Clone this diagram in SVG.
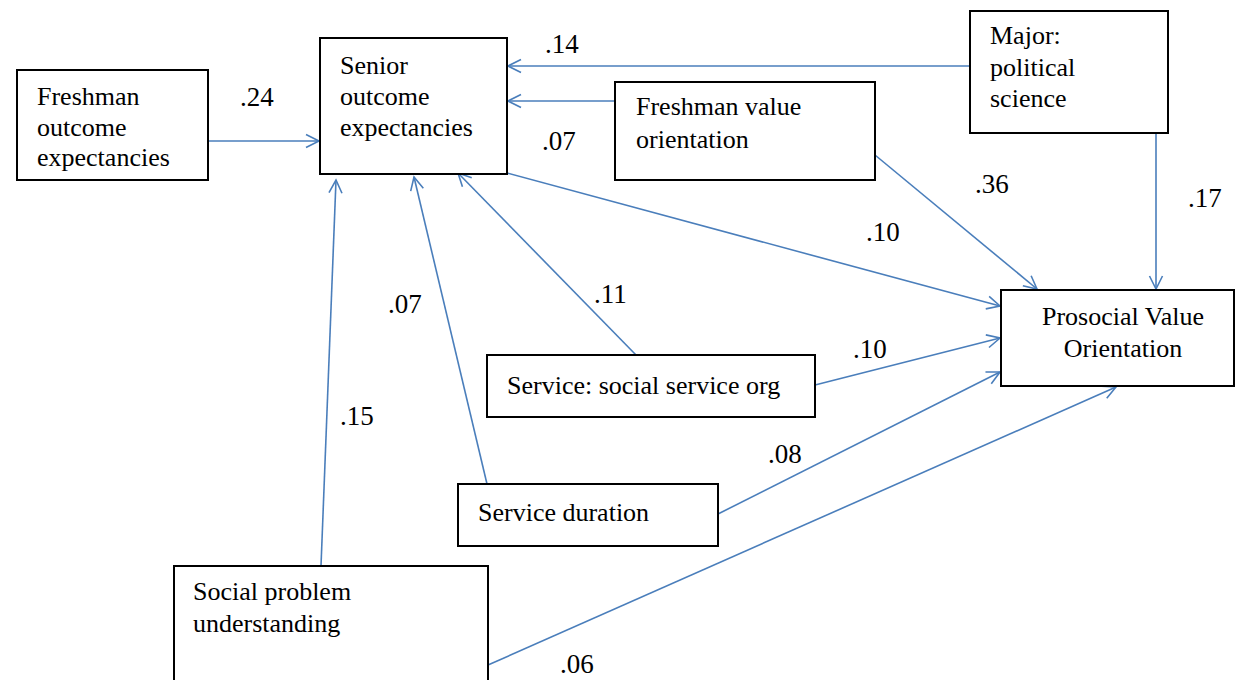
<svg xmlns="http://www.w3.org/2000/svg" width="1236" height="680" viewBox="0 0 1236 680">
<style>
.box{fill:#fff;stroke:#000;stroke-width:2}
.t{font-family:'Liberation Serif','Times New Roman','DejaVu Serif',serif;font-size:26px;fill:#000}
.n{font-family:'Liberation Serif','Times New Roman','DejaVu Serif',serif;font-size:27px;fill:#000}
.c line{stroke:#4A7EBB;stroke-width:1.6;fill:none;marker-end:url(#a)}
</style>
<defs>
<marker id="a" viewBox="-14 -8 16 16" markerWidth="16" markerHeight="16" refX="0" refY="0" orient="auto" markerUnits="userSpaceOnUse">
<path d="M-13,-6.5 L0,0 L-13,6.5" fill="none" stroke="#4A7EBB" stroke-width="1.6"/>
</marker>
</defs>
<rect width="1236" height="680" fill="#fff"/>
<g id="connectors" class="c">
<line x1="208" y1="141" x2="319" y2="141"/>
<line x1="970" y1="66" x2="508" y2="66"/>
<line x1="615" y1="101" x2="508" y2="101"/>
<line x1="507" y1="173" x2="1000" y2="306"/>
<line x1="875" y1="155" x2="1037" y2="289"/>
<line x1="1156" y1="133" x2="1156" y2="289"/>
<line x1="636" y1="355" x2="458" y2="173"/>
<line x1="815" y1="385" x2="1000" y2="338"/>
<line x1="487" y1="484" x2="414" y2="177"/>
<line x1="718" y1="514" x2="1000" y2="372"/>
<line x1="321" y1="566" x2="336" y2="180"/>
<line x1="488" y1="665" x2="1116" y2="387"/>
</g>
<g id="labels">
<text class="n" x="240" y="106">.24</text>
<text class="n" x="545" y="53">.14</text>
<text class="n" x="542" y="150">.07</text>
<text class="n" x="866" y="241">.10</text>
<text class="n" x="975" y="193">.36</text>
<text class="n" x="1188" y="207">.17</text>
<text class="n" x="594" y="303">.11</text>
<text class="n" x="853" y="358">.10</text>
<text class="n" x="388" y="313">.07</text>
<text class="n" x="768" y="463">.08</text>
<text class="n" x="340" y="425">.15</text>
<text class="n" x="560" y="673">.06</text>
</g>
<g id="freshman-outcome">
<rect class="box" x="17" y="70" width="191" height="110"/>
<text class="t" x="37" y="105">Freshman</text>
<text class="t" x="37" y="136">outcome</text>
<text class="t" x="37" y="166">expectancies</text>
</g>
<g id="senior-outcome">
<rect class="box" x="320" y="38" width="187" height="136"/>
<text class="t" x="340" y="74">Senior</text>
<text class="t" x="340" y="105">outcome</text>
<text class="t" x="340" y="136">expectancies</text>
</g>
<g id="major">
<rect class="box" x="970" y="11" width="198" height="122"/>
<text class="t" x="990" y="44">Major:</text>
<text class="t" x="990" y="76">political</text>
<text class="t" x="990" y="107">science</text>
</g>
<g id="freshman-value">
<rect class="box" x="615" y="82" width="260" height="98"/>
<text class="t" x="636" y="115">Freshman value</text>
<text class="t" x="636" y="148">orientation</text>
</g>
<g id="prosocial">
<rect class="box" x="1001" y="290" width="233" height="96"/>
<text class="t" x="1123" y="325" text-anchor="middle">Prosocial Value</text>
<text class="t" x="1123" y="357" text-anchor="middle">Orientation</text>
</g>
<g id="service-org">
<rect class="box" x="487" y="355" width="328" height="62"/>
<text class="t" x="507" y="394">Service: social service org</text>
</g>
<g id="service-duration">
<rect class="box" x="458" y="484" width="260" height="62"/>
<text class="t" x="478" y="521">Service duration</text>
</g>
<g id="social-problem">
<rect class="box" x="174" y="566" width="314" height="120"/>
<text class="t" x="193" y="600">Social problem</text>
<text class="t" x="193" y="632">understanding</text>
</g>
</svg>
